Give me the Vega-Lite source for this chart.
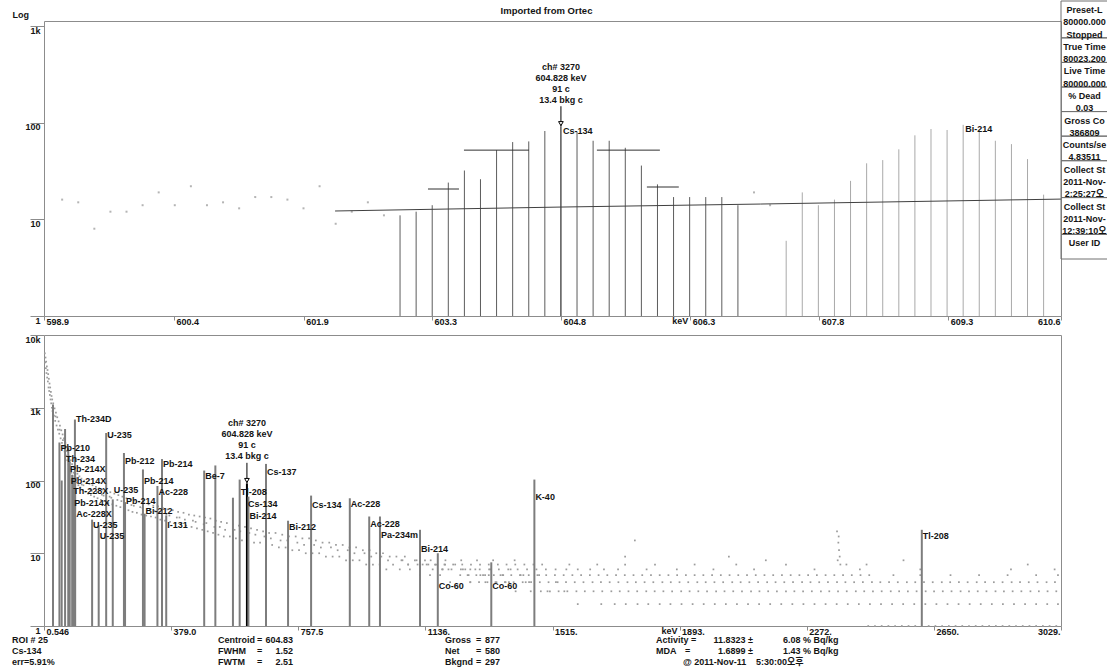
{
  "$schema": "https://vega.github.io/schema/vega-lite/v6.json",
  "padding": {"left": 11, "top": 0, "right": 0, "bottom": 0},
  "autosize": {"type": "pad"},
  "spacing": 7,
  "config": {
    "font": "Liberation Sans, Arial, Noto Sans CJK KR, sans-serif",
    "view": {"stroke": "#8c8c8c", "strokeWidth": 1},
    "axis": {"labelFontSize": 9, "labelFontWeight": "bold", "labelColor": "#141414", "tickColor": "#8c8c8c", "tickWidth": 1, "domain": false, "grid": false, "titleColor": "#141414"},
    "text": {"fontSize": 9, "fontWeight": "bold", "color": "#141414"}
  },
  "datasets": {
    "zoom": [
      {"e": 599.031, "c": 16, "kind": "pt"}, {"e": 599.218, "c": 15, "kind": "pt"}, {"e": 599.405, "c": 8, "kind": "pt"},
      {"e": 599.592, "c": 12, "kind": "pt"}, {"e": 599.779, "c": 12, "kind": "pt"}, {"e": 599.966, "c": 14, "kind": "pt"},
      {"e": 600.153, "c": 19, "kind": "pt"}, {"e": 600.340, "c": 14, "kind": "pt"}, {"e": 600.527, "c": 22, "kind": "pt"},
      {"e": 600.714, "c": 14, "kind": "pt"}, {"e": 600.901, "c": 15, "kind": "pt"}, {"e": 601.088, "c": 13, "kind": "pt"},
      {"e": 601.275, "c": 17, "kind": "pt"}, {"e": 601.462, "c": 17, "kind": "pt"}, {"e": 601.649, "c": 16, "kind": "pt"},
      {"e": 601.836, "c": 13, "kind": "pt"}, {"e": 602.023, "c": 22, "kind": "pt"}, {"e": 602.210, "c": 9, "kind": "pt"},
      {"e": 602.397, "c": 12, "kind": "pt"}, {"e": 602.584, "c": 15, "kind": "pt"}, {"e": 602.771, "c": 11, "kind": "pt"},
      {"e": 602.958, "c": 11, "kind": "roi"}, {"e": 603.145, "c": 12, "kind": "roi"}, {"e": 603.332, "c": 14, "kind": "roi"},
      {"e": 603.519, "c": 24, "kind": "roi"}, {"e": 603.706, "c": 32, "kind": "roi"}, {"e": 603.893, "c": 26, "kind": "roi"},
      {"e": 604.080, "c": 52, "kind": "roi"}, {"e": 604.267, "c": 63, "kind": "roi"}, {"e": 604.454, "c": 64, "kind": "roi"},
      {"e": 604.641, "c": 82, "kind": "roi"}, {"e": 604.828, "c": 91, "kind": "peak"}, {"e": 605.015, "c": 80, "kind": "roi"},
      {"e": 605.202, "c": 65, "kind": "roi"}, {"e": 605.389, "c": 65, "kind": "roi"}, {"e": 605.576, "c": 55, "kind": "roi"},
      {"e": 605.763, "c": 36, "kind": "roi"}, {"e": 605.950, "c": 23, "kind": "roi"}, {"e": 606.137, "c": 17, "kind": "roi"},
      {"e": 606.324, "c": 17, "kind": "roi"}, {"e": 606.511, "c": 17, "kind": "roi"}, {"e": 606.698, "c": 17, "kind": "roi"},
      {"e": 606.885, "c": 14, "kind": "roi"},
      {"e": 607.072, "c": 19, "kind": "pt"}, {"e": 607.259, "c": 14, "kind": "pt"},
      {"e": 607.446, "c": 6, "kind": "roi2"}, {"e": 607.633, "c": 19, "kind": "roi2"}, {"e": 607.820, "c": 14, "kind": "roi2"},
      {"e": 608.007, "c": 16, "kind": "roi2"}, {"e": 608.194, "c": 25, "kind": "roi2"}, {"e": 608.381, "c": 38, "kind": "roi2"},
      {"e": 608.568, "c": 41, "kind": "roi2"}, {"e": 608.755, "c": 53, "kind": "roi2"}, {"e": 608.942, "c": 74, "kind": "roi2"},
      {"e": 609.129, "c": 86, "kind": "roi2"}, {"e": 609.316, "c": 84, "kind": "roi2"}, {"e": 609.503, "c": 95, "kind": "roi2"},
      {"e": 609.690, "c": 84, "kind": "roi2"}, {"e": 609.877, "c": 65, "kind": "roi2"}, {"e": 610.064, "c": 60, "kind": "roi2"},
      {"e": 610.251, "c": 42, "kind": "roi2"}, {"e": 610.438, "c": 18, "kind": "roi2"}
    ],
    "bkg": [{"e": 602.203, "c": 12.2}, {"e": 604.828, "c": 13.4}, {"e": 607.15, "c": 14.4}, {"e": 610.64, "c": 16.2}],
    "fw": [
      {"e": 603.283, "e2": 603.643, "c": 20.6}, {"e": 603.701, "e2": 604.456, "c": 52},
      {"e": 605.246, "e2": 605.978, "c": 52}, {"e": 605.827, "e2": 606.198, "c": 21.6}
    ],
    "roiPeak": [{"e": 604.828, "c": 91, "lines": ["ch# 3270", "604.828 keV", "91 c", "13.4 bkg c"]}],
    "zoomLabels": [{"e": 604.828, "c": 91, "nuclide": "Cs-134"}, {"e": 609.503, "c": 95, "nuclide": "Bi-214"}],
    "peaks": [
      {"e": 27.3, "c": 1110}, {"e": 46.5, "c": 333, "nuclide": "Pb-210", "ly": 284}, {"e": 53.2, "c": 100},
      {"e": 63.3, "c": 510, "nuclide": "Th-234", "ly": 200}, {"e": 72.8, "c": 280},
      {"e": 74.8, "c": 150, "nuclide": "Pb-214X", "ly": 142}, {"e": 77.1, "c": 180, "nuclide": "Pb-214X", "ly": 100},
      {"e": 84.4, "c": 120, "nuclide": "Th-228X", "ly": 70.6}, {"e": 87.3, "c": 110, "nuclide": "Pb-214X", "ly": 48.3},
      {"e": 93.35, "c": 130, "nuclide": "Ac-228X", "ly": 34.1}, {"e": 92.6, "c": 689, "nuclide": "Th-234D", "ly": 711},
      {"e": 143.8, "c": 29, "nuclide": "U-235", "ly": 24.1}, {"e": 163.4, "c": 24, "nuclide": "U-235", "ly": 17},
      {"e": 185.7, "c": 450, "nuclide": "U-235", "ly": 416}, {"e": 205.3, "c": 55, "nuclide": "U-235", "ly": 75},
      {"e": 238.6, "c": 239, "nuclide": "Pb-212", "ly": 185}, {"e": 241.9, "c": 50, "nuclide": "Pb-214", "ly": 53},
      {"e": 295.2, "c": 142, "nuclide": "Pb-214", "ly": 100}, {"e": 300.1, "c": 35, "nuclide": "Bi-212", "ly": 37.5},
      {"e": 338.3, "c": 84, "nuclide": "Ac-228", "ly": 68.4}, {"e": 351.9, "c": 197, "nuclide": "Pb-214", "ly": 166},
      {"e": 364.5, "c": 33, "nuclide": "I-131", "ly": 24.1}, {"e": 477.6, "c": 137, "nuclide": "Be-7", "ly": 114},
      {"e": 510.8, "c": 161}, {"e": 563.2, "c": 58}, {"e": 583.2, "c": 103, "nuclide": "Tl-208", "ly": 68.4},
      {"e": 604.828, "c": 91, "nuclide": "Cs-134", "ly": 46.8, "sel": true}, {"e": 609.3, "c": 60, "nuclide": "Bi-214", "ly": 33},
      {"e": 661.7, "c": 169, "nuclide": "Cs-137", "ly": 129}, {"e": 727.3, "c": 28, "nuclide": "Bi-212", "ly": 23.3},
      {"e": 795.9, "c": 62, "nuclide": "Cs-134", "ly": 45.4}, {"e": 911.2, "c": 57, "nuclide": "Ac-228", "ly": 46.8},
      {"e": 969.0, "c": 32, "nuclide": "Ac-228", "ly": 25.6}, {"e": 1001.0, "c": 32, "nuclide": "Pa-234m", "ly": 18.1},
      {"e": 1120.3, "c": 21, "nuclide": "Bi-214", "ly": 11.3}, {"e": 1173.2, "c": 10, "nuclide": "Co-60", "ly": 3.5},
      {"e": 1332.5, "c": 7.5, "nuclide": "Co-60", "ly": 3.5}, {"e": 1460.8, "c": 103, "nuclide": "K-40", "ly": 58.4},
      {"e": 2614.5, "c": 21, "nuclide": "Tl-208", "ly": 17}
    ],
    "spectrum": [
      {"e":3,"c":5600},{"e":4,"c":4200},{"e":5,"c":4900},{"e":6,"c":3500},{"e":7,"c":4300},{"e":8,"c":3000},{"e":9,"c":3700},{"e":10,"c":2600},
      {"e":11,"c":3300},{"e":12,"c":2300},{"e":13,"c":2900},{"e":14,"c":1900},{"e":15,"c":2500},{"e":16,"c":1700},{"e":17,"c":2150},{"e":18,"c":1500},
      {"e":19,"c":1900},{"e":20,"c":1300},{"e":21,"c":1650},{"e":22,"c":1150},{"e":23,"c":1450},{"e":24,"c":1000},{"e":25,"c":1300},{"e":26,"c":900},
      {"e":28,"c":1150},{"e":30,"c":780},{"e":32,"c":980},{"e":34,"c":660},{"e":36,"c":860},{"e":38,"c":570},{"e":40,"c":740},{"e":42,"c":500},
      {"e":44,"c":650},{"e":46,"c":440},{"e":48,"c":570},{"e":50,"c":380},{"e":52,"c":490},{"e":54,"c":330},{"e":56,"c":430},{"e":58,"c":290},
      {"e":60,"c":380},{"e":62,"c":250},{"e":64,"c":330},{"e":66,"c":220},{"e":68,"c":290},{"e":70,"c":190},{"e":72,"c":250},{"e":74,"c":165},
      {"e":76,"c":215},{"e":78,"c":145},{"e":80,"c":190},{"e":82,"c":128},{"e":84,"c":168},{"e":86,"c":115},{"e":88,"c":150},{"e":91,"c":102},
      {"e":94,"c":136},{"e":97,"c":94},{"e":100,"c":124},{"e":103,"c":86},{"e":106,"c":114},{"e":109,"c":80},{"e":112,"c":106},{"e":116,"c":74},
      {"e":120,"c":100},{"e":124,"c":70},{"e":128,"c":94},{"e":132,"c":66},{"e":136,"c":90},{"e":140,"c":63},{"e":145,"c":86},{"e":150,"c":60},
      {"e":155,"c":82},{"e":160,"c":57},{"e":165,"c":78},{"e":170,"c":54},{"e":175,"c":75},{"e":180,"c":52},{"e":186,"c":72},{"e":192,"c":49},
      {"e":198,"c":69},{"e":204,"c":47},{"e":210,"c":66},{"e":216,"c":45},{"e":222,"c":63},{"e":228,"c":43},{"e":234,"c":60},{"e":240,"c":41},
      {"e":246,"c":57},{"e":252,"c":39},{"e":258,"c":55},{"e":264,"c":37},{"e":270,"c":53},{"e":277,"c":36},{"e":284,"c":51},{"e":291,"c":34},
      {"e":298,"c":49},{"e":305,"c":33},{"e":312,"c":47},{"e":319,"c":32},{"e":326,"c":45},{"e":333,"c":31},{"e":340,"c":44},{"e":347,"c":29},
      {"e":354,"c":42},{"e":361,"c":28},{"e":368,"c":40},{"e":376,"c":27},{"e":384,"c":39},{"e":392,"c":26},{"e":400,"c":37},{"e":408,"c":25},
      {"e":416,"c":36},{"e":424,"c":24},{"e":432,"c":34},{"e":440,"c":23},{"e":448,"c":33},{"e":456,"c":22},{"e":464,"c":32},{"e":472,"c":21},
      {"e":480,"c":31},{"e":488,"c":20},{"e":496,"c":30},{"e":504,"c":19},{"e":512,"c":28},{"e":520,"c":18},{"e":528,"c":27},{"e":536,"c":17},
      {"e":545,"c":26},{"e":554,"c":17},{"e":563,"c":25},{"e":572,"c":16},{"e":581,"c":24},{"e":590,"c":15},{"e":599,"c":23},{"e":608,"c":15},
      {"e":617,"c":22},{"e":626,"c":14},{"e":635,"c":21},{"e":644,"c":14},{"e":653,"c":20},{"e":662,"c":13},{"e":671,"c":19},{"e":680,"c":13},
      {"e":690,"c":19},{"e":700,"c":12},{"e":710,"c":18},{"e":720,"c":12},{"e":730,"c":17},{"e":740,"c":11},{"e":750,"c":17},{"e":760,"c":11},
      {"e":770,"c":16},{"e":780,"c":10},{"e":790,"c":16},{"e":800,"c":10},{"e":810,"c":15},{"e":820,"c":10},{"e":830,"c":14},{"e":840,"c":9},
      {"e":850,"c":14},{"e":860,"c":9},{"e":870,"c":13},{"e":880,"c":9},{"e":890,"c":13},{"e":900,"c":8},{"e":910,"c":12},{"e":920,"c":8},
      {"e":930,"c":12},{"e":940,"c":8},{"e":950,"c":11},{"e":960,"c":7},{"e":970,"c":11},{"e":980,"c":7},{"e":990,"c":10},{"e":1000,"c":7},
      {"e":1010,"c":10},{"e":1020,"c":6},{"e":1030,"c":9},{"e":1040,"c":7},{"e":1050,"c":9},{"e":1060,"c":6},{"e":1075,"c":9},{"e":1090,"c":6},
      {"e":1105,"c":8},{"e":1120,"c":5},{"e":1135,"c":8},{"e":1150,"c":5},{"e":1165,"c":7},{"e":1180,"c":5},{"e":1195,"c":7},{"e":1210,"c":4},
      {"e":1225,"c":7},{"e":1240,"c":5},{"e":1255,"c":6},{"e":1270,"c":4},{"e":1285,"c":6},{"e":1300,"c":5},{"e":1315,"c":4},{"e":1330,"c":6},
      {"e":1345,"c":4},{"e":1360,"c":5},{"e":1375,"c":4},{"e":1390,"c":6},{"e":1405,"c":3},{"e":1420,"c":5},{"e":1435,"c":4},{"e":1450,"c":3},
      {"e":1475,"c":5},{"e":1500,"c":3},{"e":1525,"c":4},{"e":1550,"c":3},
      {"e":113,"c":88},{"e":143,"c":72},{"e":173,"c":64},{"e":201,"c":58},{"e":231,"c":52},{"e":261,"c":46},{"e":294,"c":42},{"e":330,"c":38},
      {"e":365,"c":34},{"e":404,"c":31},{"e":444,"c":28},{"e":484,"c":26},{"e":524,"c":23},{"e":568,"c":21},{"e":612,"c":19},{"e":657,"c":17},
      {"e":705,"c":15},{"e":755,"c":14},{"e":805,"c":13},{"e":855,"c":12},{"e":905,"c":11},{"e":955,"c":10},{"e":1005,"c":9},{"e":1068,"c":8},
      {"e":1128,"c":7},{"e":1188,"c":6},{"e":1248,"c":6},{"e":1308,"c":5},{"e":1368,"c":5},{"e":1428,"c":5},
      {"e":35,"c":760},{"e":47,"c":500},{"e":57,"c":360},{"e":67,"c":255},{"e":77,"c":180},{"e":89,"c":128},{"e":98,"c":108},{"e":118,"c":86},
      {"e":138,"c":76},{"e":158,"c":69},{"e":178,"c":62},{"e":196,"c":60},{"e":219,"c":54},{"e":243,"c":49},{"e":268,"c":45},{"e":287,"c":43},
      {"e":316,"c":40},{"e":345,"c":37},{"e":374,"c":33},{"e":396,"c":31},{"e":420,"c":29},{"e":452,"c":27},{"e":476,"c":25},{"e":508,"c":23},
      {"e":540,"c":21},{"e":585,"c":20},{"e":630,"c":18},{"e":676,"c":16},{"e":725,"c":15},{"e":775,"c":13},{"e":825,"c":12},{"e":875,"c":11},
      {"e":925,"c":10},{"e":975,"c":9},{"e":1025,"c":8},{"e":1085,"c":7},{"e":1145,"c":7},{"e":1205,"c":6},{"e":1265,"c":5},{"e":1325,"c":5},
      {"e":1385,"c":4},{"e":1445,"c":4},
      {"e":1065,"c":8},{"e":1110,"c":8},{"e":1152,"c":8},{"e":1196,"c":8},{"e":1243,"c":8},{"e":1290,"c":8},{"e":1338,"c":8},{"e":1402,"c":8},
      {"e":1085,"c":7},{"e":1113,"c":7},{"e":1140,"c":7},{"e":1168,"c":7},{"e":1193,"c":7},{"e":1219,"c":7},{"e":1246,"c":7},{"e":1272,"c":7},
      {"e":1299,"c":7},{"e":1325,"c":7},{"e":1352,"c":7},{"e":1378,"c":7},{"e":1404,"c":7},{"e":1431,"c":7},{"e":1458,"c":7},{"e":1484,"c":7},
      {"e":1565,"c":7},{"e":1648,"c":7},{"e":1731,"c":7},{"e":1820,"c":7},{"e":1938,"c":7},{"e":2062,"c":7},{"e":2210,"c":7},{"e":2390,"c":7},{"e":2450,"c":7},
      {"e":1158,"c":6},{"e":1186,"c":6},{"e":1214,"c":6},{"e":1242,"c":6},{"e":1270,"c":6},{"e":1298,"c":6},{"e":1326,"c":6},{"e":1355,"c":6},
      {"e":1383,"c":6},{"e":1411,"c":6},{"e":1439,"c":6},{"e":1467,"c":6},{"e":1495,"c":6},{"e":1524,"c":6},{"e":1556,"c":6},{"e":1590,"c":6},
      {"e":1627,"c":6},{"e":1668,"c":6},{"e":1710,"c":6},{"e":1795,"c":6},{"e":1885,"c":6},{"e":1994,"c":6},{"e":2115,"c":6},{"e":2295,"c":6},
      {"e":2430,"c":6},{"e":2610,"c":6},{"e":2880,"c":6},
      {"e":1262,"c":5},{"e":1288,"c":5},{"e":1314,"c":5},{"e":1340,"c":5},{"e":1366,"c":5},{"e":1392,"c":5},{"e":1418,"c":5},{"e":1444,"c":5},
      {"e":1470,"c":5},{"e":1496,"c":5},{"e":1522,"c":5},{"e":1548,"c":5},{"e":1574,"c":5},{"e":1600,"c":5},{"e":1626,"c":5},{"e":1652,"c":5},
      {"e":1678,"c":5},{"e":1704,"c":5},{"e":1730,"c":5},{"e":1756,"c":5},{"e":1782,"c":5},{"e":1808,"c":5},{"e":1834,"c":5},{"e":1860,"c":5},
      {"e":1886,"c":5},{"e":1912,"c":5},{"e":1938,"c":5},{"e":1964,"c":5},{"e":1990,"c":5},{"e":2016,"c":5},{"e":2042,"c":5},{"e":2068,"c":5},
      {"e":2094,"c":5},{"e":2120,"c":5},{"e":2146,"c":5},{"e":2172,"c":5},{"e":2198,"c":5},{"e":2224,"c":5},{"e":2250,"c":5},{"e":2276,"c":5},
      {"e":2302,"c":5},{"e":2328,"c":5},{"e":2354,"c":5},{"e":2380,"c":5},{"e":2406,"c":5},{"e":2432,"c":5},{"e":2458,"c":5},{"e":2530,"c":5},
      {"e":2610,"c":5},{"e":2700,"c":5},{"e":2785,"c":5},{"e":2870,"c":5},{"e":2955,"c":5},{"e":3020,"c":5},
      {"e":1270,"c":4},{"e":1296,"c":4},{"e":1321,"c":4},{"e":1348,"c":4},{"e":1373,"c":4},{"e":1399,"c":4},{"e":1426,"c":4},{"e":1451,"c":4},
      {"e":1477,"c":4},{"e":1503,"c":4},{"e":1530,"c":4},{"e":1555,"c":4},{"e":1581,"c":4},{"e":1607,"c":4},{"e":1634,"c":4},{"e":1659,"c":4},
      {"e":1685,"c":4},{"e":1711,"c":4},{"e":1738,"c":4},{"e":1763,"c":4},{"e":1789,"c":4},{"e":1815,"c":4},{"e":1842,"c":4},{"e":1867,"c":4},
      {"e":1893,"c":4},{"e":1919,"c":4},{"e":1946,"c":4},{"e":1971,"c":4},{"e":1997,"c":4},{"e":2023,"c":4},{"e":2050,"c":4},{"e":2075,"c":4},
      {"e":2101,"c":4},{"e":2127,"c":4},{"e":2154,"c":4},{"e":2179,"c":4},{"e":2205,"c":4},{"e":2231,"c":4},{"e":2258,"c":4},{"e":2283,"c":4},
      {"e":2309,"c":4},{"e":2335,"c":4},{"e":2362,"c":4},{"e":2387,"c":4},{"e":2413,"c":4},{"e":2439,"c":4},{"e":2466,"c":4},{"e":2491,"c":4},
      {"e":2517,"c":4},{"e":2543,"c":4},{"e":2570,"c":4},{"e":2595,"c":4},{"e":2621,"c":4},{"e":2647,"c":4},{"e":2674,"c":4},{"e":2699,"c":4},
      {"e":2725,"c":4},{"e":2751,"c":4},{"e":2778,"c":4},{"e":2803,"c":4},{"e":2829,"c":4},{"e":2855,"c":4},{"e":2882,"c":4},{"e":2907,"c":4},
      {"e":2933,"c":4},{"e":2959,"c":4},{"e":2986,"c":4},{"e":3011,"c":4},
      {"e":1480,"c":3},{"e":1507,"c":3},{"e":1533,"c":3},{"e":1559,"c":3},{"e":1586,"c":3},{"e":1611,"c":3},{"e":1637,"c":3},{"e":1663,"c":3},
      {"e":1690,"c":3},{"e":1715,"c":3},{"e":1741,"c":3},{"e":1767,"c":3},{"e":1794,"c":3},{"e":1819,"c":3},{"e":1845,"c":3},{"e":1871,"c":3},
      {"e":1898,"c":3},{"e":1923,"c":3},{"e":1949,"c":3},{"e":1975,"c":3},{"e":2002,"c":3},{"e":2027,"c":3},{"e":2053,"c":3},{"e":2079,"c":3},
      {"e":2106,"c":3},{"e":2131,"c":3},{"e":2157,"c":3},{"e":2183,"c":3},{"e":2210,"c":3},{"e":2235,"c":3},{"e":2261,"c":3},{"e":2287,"c":3},
      {"e":2314,"c":3},{"e":2339,"c":3},{"e":2365,"c":3},{"e":2391,"c":3},{"e":2418,"c":3},{"e":2443,"c":3},{"e":2469,"c":3},{"e":2495,"c":3},
      {"e":2522,"c":3},{"e":2547,"c":3},{"e":2573,"c":3},{"e":2599,"c":3},{"e":2626,"c":3},{"e":2651,"c":3},{"e":2677,"c":3},{"e":2703,"c":3},
      {"e":2730,"c":3},{"e":2755,"c":3},{"e":2781,"c":3},{"e":2807,"c":3},{"e":2834,"c":3},{"e":2859,"c":3},{"e":2885,"c":3},{"e":2911,"c":3},
      {"e":2938,"c":3},{"e":2963,"c":3},{"e":2989,"c":3},{"e":3015,"c":3},
      {"e":1590,"c":2},{"e":1660,"c":2},{"e":1700,"c":2},{"e":1733,"c":2},{"e":1768,"c":2},{"e":1800,"c":2},{"e":1834,"c":2},{"e":1866,"c":2},
      {"e":1899,"c":2},{"e":1932,"c":2},{"e":1965,"c":2},{"e":1998,"c":2},{"e":2031,"c":2},{"e":2064,"c":2},{"e":2097,"c":2},{"e":2130,"c":2},
      {"e":2163,"c":2},{"e":2196,"c":2},{"e":2229,"c":2},{"e":2262,"c":2},{"e":2295,"c":2},{"e":2328,"c":2},{"e":2361,"c":2},{"e":2394,"c":2},
      {"e":2427,"c":2},{"e":2460,"c":2},{"e":2493,"c":2},{"e":2526,"c":2},{"e":2559,"c":2},{"e":2592,"c":2},{"e":2625,"c":2},{"e":2658,"c":2},
      {"e":2691,"c":2},{"e":2724,"c":2},{"e":2757,"c":2},{"e":2790,"c":2},{"e":2823,"c":2},{"e":2856,"c":2},{"e":2889,"c":2},{"e":2922,"c":2},
      {"e":2955,"c":2},{"e":2988,"c":2},{"e":3020,"c":2},
      {"e":2455,"c":1},{"e":2475,"c":1},{"e":2495,"c":1},{"e":2515,"c":1},{"e":2535,"c":1},{"e":2555,"c":1},{"e":2575,"c":1},{"e":2595,"c":1},
      {"e":2635,"c":1},{"e":2655,"c":1},{"e":2675,"c":1},{"e":2695,"c":1},{"e":2715,"c":1},{"e":2735,"c":1},{"e":2755,"c":1},{"e":2775,"c":1},
      {"e":2795,"c":1},{"e":2815,"c":1},{"e":2835,"c":1},{"e":2855,"c":1},{"e":2875,"c":1},{"e":2895,"c":1},{"e":2915,"c":1},{"e":2935,"c":1},
      {"e":2955,"c":1},{"e":2975,"c":1},{"e":2995,"c":1},{"e":3015,"c":1},
      {"e":2362,"c":20},{"e":2366,"c":14},{"e":2368,"c":11},{"e":2370,"c":9},{"e":2364,"c":8},{"e":2372,"c":7},{"e":2367,"c":17},
      {"e":1760,"c":15},{"e":1731,"c":9},{"e":2040,"c":9},{"e":2150,"c":8},{"e":2560,"c":8},{"e":2930,"c":7},{"e":3010,"c":6}
    ],
    "status": [
      {"slot": 0, "text": "Preset-L"}, {"slot": 1, "text": "80000.000"}, {"slot": 2, "text": "Stopped"},
      {"slot": 3, "text": "True Time"}, {"slot": 4, "text": "80023.200"},
      {"slot": 5, "text": "Live Time"}, {"slot": 6, "text": "80000.000"},
      {"slot": 7, "text": "% Dead"}, {"slot": 8, "text": "0.03"},
      {"slot": 9, "text": "Gross Count"}, {"slot": 10, "text": "386809"},
      {"slot": 11, "text": "Counts/sec"}, {"slot": 12, "text": "4.83511"},
      {"slot": 13, "text": "Collect Start"}, {"slot": 14, "text": "2011-Nov-15"}, {"slot": 15, "text": "2:25:27오후"},
      {"slot": 16, "text": "Collect Stop"}, {"slot": 17, "text": "2011-Nov-16"}, {"slot": 18, "text": "12:39:10오후"},
      {"slot": 19, "text": "User ID"}
    ],
    "statusBoxes": [
      {"top": 0, "bottom": 3}, {"top": 3, "bottom": 5}, {"top": 5, "bottom": 7}, {"top": 7, "bottom": 9},
      {"top": 9, "bottom": 11}, {"top": 11, "bottom": 13}, {"top": 13, "bottom": 16}, {"top": 16, "bottom": 19},
      {"top": 19, "bottom": 21}
    ],
    "footer": [
      {"col": 0, "line": 1, "text": "ROI # 25"}, {"col": 1, "line": 1, "text": "Centroid"}, {"col": 2, "line": 1, "text": "="},
      {"col": 3, "line": 1, "text": "604.83"}, {"col": 4, "line": 1, "text": "Gross"}, {"col": 5, "line": 1, "text": "="},
      {"col": 6, "line": 1, "text": "877"}, {"col": 7, "line": 1, "text": "Activity ="}, {"col": 9, "line": 1, "text": "11.8323 ±"},
      {"col": 10, "line": 1, "text": "6.08 % Bq/kg"},
      {"col": 0, "line": 2, "text": "Cs-134"}, {"col": 1, "line": 2, "text": "FWHM"}, {"col": 2, "line": 2, "text": "="},
      {"col": 3, "line": 2, "text": "1.52"}, {"col": 4, "line": 2, "text": "Net"}, {"col": 5, "line": 2, "text": "="},
      {"col": 6, "line": 2, "text": "580"}, {"col": 7, "line": 2, "text": "MDA"}, {"col": 8, "line": 2, "text": "="},
      {"col": 9, "line": 2, "text": "1.6899 ±"}, {"col": 10, "line": 2, "text": "1.43 % Bq/kg"},
      {"col": 0, "line": 3, "text": "err=5.91%"}, {"col": 1, "line": 3, "text": "FWTM"}, {"col": 2, "line": 3, "text": "="},
      {"col": 3, "line": 3, "text": "2.51"}, {"col": 4, "line": 3, "text": "Bkgnd"}, {"col": 5, "line": 3, "text": "="},
      {"col": 6, "line": 3, "text": "297"}, {"col": 11, "line": 3, "text": "@ 2011-Nov-11"}, {"col": 12, "line": 3, "text": "5:30:00오후"}
    ]
  },
  "vconcat": [
    {
      "spacing": 0,
      "bounds": "flush",
      "hconcat": [
        {
          "width": 1017,
          "height": 295,
          "resolve": {"axis": {"x": "independent"}},
          "layer": [
            {
              "data": {"name": "zoom"},
              "transform": [{"filter": "datum.kind == 'pt'"}],
              "mark": {"type": "square", "size": 4, "color": "#b4b4b4", "opacity": 1},
              "encoding": {
                "x": {
                  "field": "e", "type": "quantitative",
                  "scale": {"domain": [598.82, 610.64], "nice": false, "zero": false},
                  "axis": {
                    "orient": "bottom", "title": null,
                    "values": [598.82, 600.33, 601.84, 603.33, 604.83, 606.33, 607.83, 609.33, 610.64],
                    "labelExpr": "datum.value < 599 ? '598.9' : datum.value < 600.5 ? '600.4' : datum.value < 602 ? '601.9' : datum.value > 610 ? '610.6' : format(datum.value, '.1f')",
                    "tickSize": 4, "labelPadding": -3, "labelBaseline": "top",
                    "labelAlign": {"condition": {"test": "datum.value > 610", "value": "right"}, "value": "left"},
                    "labelOffset": {"condition": {"test": "datum.value > 610", "value": -1}, "value": 2},
                    "labelFlush": false, "labelOverlap": false
                  }
                },
                "y": {
                  "field": "c", "type": "quantitative",
                  "scale": {"type": "log", "domain": [1, 1127], "nice": false},
                  "axis": {
                    "title": "Log", "values": [1, 10, 100, 1000], "format": "~s",
                    "tickSize": 14, "labelPadding": -10, "labelBaseline": "top", "labelAlign": "right", "labelOverlap": false,
                    "titleAngle": 0, "titleX": -32, "titleY": -7, "titleAlign": "left", "titleBaseline": "middle",
                    "titleFontSize": 9, "titleFontWeight": "bold"
                  }
                }
              }
            },
            {
              "data": {"name": "zoom"},
              "transform": [{"filter": "datum.kind != 'pt'"}],
              "mark": {"type": "rule", "strokeWidth": 1},
              "encoding": {
                "x": {"field": "e", "type": "quantitative", "axis": null},
                "y": {"field": "c", "type": "quantitative"},
                "y2": {"datum": 1},
                "color": {"field": "kind", "type": "nominal", "scale": {"domain": ["roi", "peak", "roi2"], "range": ["#5c5c5c", "#000000", "#a9a9a9"]}, "legend": null}
              }
            },
            {
              "data": {"name": "bkg"},
              "mark": {"type": "line", "color": "#404040", "strokeWidth": 1},
              "encoding": {
                "x": {"field": "e", "type": "quantitative", "axis": null},
                "y": {"field": "c", "type": "quantitative"}
              }
            },
            {
              "data": {"name": "fw"},
              "mark": {"type": "rule", "color": "#303030", "strokeWidth": 1},
              "encoding": {
                "x": {"field": "e", "type": "quantitative", "axis": null},
                "x2": {"field": "e2"},
                "y": {"field": "c", "type": "quantitative"}
              }
            },
            {
              "data": {"name": "roiPeak"},
              "mark": {"type": "rule", "color": "#000000", "strokeWidth": 1},
              "encoding": {
                "x": {"field": "e", "type": "quantitative", "axis": null},
                "y": {"field": "c", "type": "quantitative"},
                "y2": {"datum": 148}
              }
            },
            {
              "data": {"name": "roiPeak"},
              "mark": {"type": "point", "shape": "triangle-down", "size": 22, "filled": true, "fill": "#ffffff", "stroke": "#000000", "strokeWidth": 1, "opacity": 1, "yOffset": -3},
              "encoding": {
                "x": {"field": "e", "type": "quantitative", "axis": null},
                "y": {"field": "c", "type": "quantitative"}
              }
            },
            {
              "data": {"name": "roiPeak"},
              "mark": {"type": "text", "align": "center", "baseline": "bottom", "dy": -55, "lineHeight": 11},
              "encoding": {
                "x": {"field": "e", "type": "quantitative", "axis": null},
                "y": {"field": "c", "type": "quantitative"},
                "text": {"field": "lines"}
              }
            },
            {
              "data": {"name": "zoomLabels"},
              "mark": {"type": "text", "align": "left", "baseline": "top", "dx": 2, "dy": 0},
              "encoding": {
                "x": {"field": "e", "type": "quantitative", "axis": null},
                "y": {"field": "c", "type": "quantitative"},
                "text": {"field": "nuclide"}
              }
            },
            {
              "data": {"values": [{}]},
              "mark": {"type": "text", "align": "right", "baseline": "top", "dx": -2, "dy": 1},
              "encoding": {
                "x": {
                  "datum": 606.33, "type": "quantitative",
                  "axis": {
                    "orient": "top", "title": "Imported from Ortec", "labels": false, "ticks": false, "domain": false,
                    "titleX": 502, "titleY": -11, "titleAlign": "center", "titleBaseline": "middle",
                    "titleFontSize": 9.5, "titleFontWeight": "bold"
                  }
                },
                "y": {"datum": 1, "type": "quantitative"},
                "text": {"value": "keV"}
              }
            }
          ]
        },
        {
          "width": 47,
          "height": 238,
          "view": {"stroke": null},
          "layer": [
            {
              "data": {"name": "statusBoxes"},
              "mark": {"type": "rect", "fillOpacity": 0, "stroke": "#707070", "strokeWidth": 1},
              "encoding": {
                "x": {"datum": 0, "type": "quantitative", "scale": {"domain": [0, 1], "nice": false, "zero": false}, "axis": null},
                "x2": {"datum": 0.99},
                "y": {"field": "top", "type": "quantitative", "scale": {"domain": [0, 21], "range": [-20, 238], "nice": false, "zero": false}, "axis": null},
                "y2": {"field": "bottom"}
              }
            },
            {
              "data": {"name": "status"},
              "mark": {"type": "text", "align": "center", "baseline": "middle", "yOffset": 9, "limit": 46, "ellipsis": "\u200b"},
              "encoding": {
                "x": {"datum": 0.5, "type": "quantitative"},
                "y": {"field": "slot", "type": "quantitative"},
                "text": {"field": "text"}
              }
            }
          ]
        }
      ]
    },
    {
      "spacing": 9,
      "bounds": "flush",
      "vconcat": [
        {
          "width": 1017,
          "height": 291,
          "layer": [
            {
              "data": {"name": "spectrum"},
              "mark": {"type": "square", "size": 3, "color": "#9c9c9c", "opacity": 1},
              "encoding": {
                "x": {
                  "field": "e", "type": "quantitative",
                  "scale": {"domain": [0.546, 3029], "nice": false, "zero": false},
                  "axis": {
                    "orient": "bottom", "title": null,
                    "values": [0.546, 379.1, 757.7, 1136.2, 1514.8, 1893.3, 2271.9, 2650.5, 3029],
                    "labelExpr": "datum.value < 1 ? '0.546' : datum.value < 400 ? '379.0' : datum.value < 800 ? '757.5' : datum.value < 1200 ? '1136.' : datum.value < 1600 ? '1515.' : datum.value < 2000 ? '1893.' : datum.value < 2400 ? '2272.' : datum.value < 2700 ? '2650.' : '3029.'",
                    "tickSize": 4, "labelPadding": -3, "labelBaseline": "top",
                    "labelAlign": {"condition": {"test": "datum.value > 3000", "value": "right"}, "value": "left"},
                    "labelOffset": {"condition": {"test": "datum.value > 3000", "value": -1}, "value": 2},
                    "labelFlush": false, "labelOverlap": false
                  }
                },
                "y": {
                  "field": "c", "type": "quantitative",
                  "scale": {"type": "log", "domain": [1, 10000], "nice": false},
                  "axis": {
                    "title": null, "values": [1, 10, 100, 1000, 10000], "format": "~s",
                    "tickSize": 14, "labelPadding": -10, "labelBaseline": "top", "labelAlign": "right", "labelOverlap": false
                  }
                }
              }
            },
            {
              "data": {"name": "peaks"},
              "mark": {"type": "rule", "strokeWidth": 2},
              "encoding": {
                "x": {"field": "e", "type": "quantitative"},
                "y": {"field": "c", "type": "quantitative"},
                "y2": {"datum": 1},
                "color": {"condition": {"test": "datum.sel === true", "value": "#000000"}, "value": "#7d7d7d"}
              }
            },
            {
              "data": {"name": "peaks"},
              "transform": [{"filter": "datum.nuclide"}],
              "mark": {"type": "text", "align": "left", "baseline": "middle", "dx": 1},
              "encoding": {
                "x": {"field": "e", "type": "quantitative"},
                "y": {"field": "ly", "type": "quantitative"},
                "text": {"field": "nuclide"}
              }
            },
            {
              "data": {"name": "roiPeak"},
              "mark": {"type": "rule", "color": "#000000", "strokeWidth": 1},
              "encoding": {
                "x": {"field": "e", "type": "quantitative"},
                "y": {"field": "c", "type": "quantitative"},
                "y2": {"datum": 175}
              }
            },
            {
              "data": {"name": "roiPeak"},
              "mark": {"type": "point", "shape": "triangle-down", "size": 22, "filled": true, "fill": "#ffffff", "stroke": "#000000", "strokeWidth": 1, "opacity": 1, "yOffset": -3},
              "encoding": {
                "x": {"field": "e", "type": "quantitative"},
                "y": {"field": "c", "type": "quantitative"}
              }
            },
            {
              "data": {"name": "roiPeak"},
              "mark": {"type": "text", "align": "center", "baseline": "bottom", "dy": -55, "lineHeight": 11},
              "encoding": {
                "x": {"field": "e", "type": "quantitative"},
                "y": {"field": "c", "type": "quantitative"},
                "text": {"field": "lines"}
              }
            },
            {
              "data": {"values": [{}]},
              "mark": {"type": "text", "align": "right", "baseline": "top", "dx": -2, "dy": 1},
              "encoding": {
                "x": {"datum": 1893.3, "type": "quantitative"},
                "y": {"datum": 1, "type": "quantitative"},
                "text": {"value": "keV"}
              }
            }
          ]
        },
        {
          "width": 1064,
          "height": 36,
          "view": {"stroke": null},
          "layer": [
            {
              "data": {"name": "footer"},
              "transform": [{"filter": "datum.col != 3 && datum.col != 6 && datum.col != 9"}],
              "mark": {"type": "text", "align": "left", "baseline": "middle"},
              "encoding": {
                "x": {"field": "col", "type": "quantitative", "scale": {"domain": [0, 1, 2, 3, 4, 5, 6, 7, 8, 9, 10, 11, 12], "range": [-32, 174, 213, 249, 401, 432, 456, 612, 641, 709, 739, 639, 712], "nice": false, "zero": false}, "axis": null},
                "y": {"field": "line", "type": "quantitative", "scale": {"domain": [1, 3], "range": [4.5, 26.5], "nice": false, "zero": false}, "axis": null},
                "text": {"field": "text"}
              }
            },
            {
              "data": {"name": "footer"},
              "transform": [{"filter": "datum.col == 3 || datum.col == 6 || datum.col == 9"}],
              "mark": {"type": "text", "align": "right", "baseline": "middle"},
              "encoding": {
                "x": {"field": "col", "type": "quantitative"},
                "y": {"field": "line", "type": "quantitative"},
                "text": {"field": "text"}
              }
            },
            {
              "data": {"values": [{}]},
              "mark": {"type": "rule", "color": "#c9dbe6", "strokeWidth": 2},
              "encoding": {
                "y": {"datum": 3.77, "type": "quantitative"}
              }
            }
          ]
        }
      ]
    }
  ]
}
